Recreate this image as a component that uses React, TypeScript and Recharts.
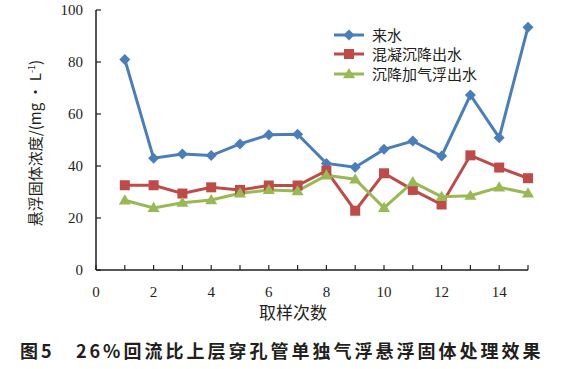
import React from "react";
import { LineChart, Line, XAxis, YAxis } from "recharts";

const samples = [1, 2, 3, 4, 5, 6, 7, 8, 9, 10, 11, 12, 13, 14, 15];
const influent = [81, 43, 44.6, 44, 48.5, 52, 52.2, 41, 39.5, 46.4, 49.6, 43.8, 67.3, 50.9, 93.4];
const coagEffluent = [32.6, 32.6, 29.4, 31.8, 30.8, 32.5, 32.5, 38.2, 22.8, 37.2, 30.8, 25.2, 44.1, 39.4, 35.3];
const flotationEffluent = [26.8, 23.9, 25.9, 26.9, 29.5, 30.8, 30.4, 36.4, 34.9, 23.9, 33.8, 28.2, 28.6, 31.8, 29.5];
const seriesNames = ["来水", "混凝沉降出水", "沉降加气浮出水"];
const xTicks = [0, 1, 2, 3, 4, 5, 6, 7, 8, 9, 10, 11, 12, 13, 14, 15];
const yTicks = [0, 20, 40, 60, 80, 100];

const COLORS = ["#4a7ebb", "#be4b48", "#98b954"];

const data = samples.map((s, i) => ({
  x: s,
  a: influent[i],
  b: coagEffluent[i],
  c: flotationEffluent[i],
}));

const PLOT_LEFT = 96;
const PLOT_BOTTOM = 270;
const AXIS = "#231f20";
const SERIF = "'Liberation Serif', 'Noto Sans CJK SC', serif";
const CJK = "'Noto Sans CJK SC', sans-serif";

function Marker({ kind, cx, cy, color }: { kind: number; cx: number; cy: number; color: string }) {
  if (cx == null || cy == null) return null;
  if (kind === 0) {
    const r = 5.5;
    return <polygon points={`${cx},${cy - r} ${cx + r},${cy} ${cx},${cy + r} ${cx - r},${cy}`} fill={color} />;
  }
  if (kind === 1) {
    return <rect x={cx - 5} y={cy - 5} width={10} height={10} fill={color} />;
  }
  const s = 6;
  return <polygon points={`${cx},${cy - s} ${cx + s},${cy + s * 0.7} ${cx - s},${cy + s * 0.7}`} fill={color} />;
}

const dot = (kind: number) => (props: any) => (
  <Marker key={`${kind}-${props.index}`} kind={kind} cx={props.cx} cy={props.cy} color={COLORS[kind]} />
);

function XTick(props: any) {
  const { x, payload } = props;
  const v = payload.value;
  return (
    <g>
      <line x1={x} x2={x} y1={PLOT_BOTTOM} y2={PLOT_BOTTOM - 5} stroke={AXIS} strokeWidth={1.2} />
      {v % 2 === 0 && (
        <text x={x} y={PLOT_BOTTOM + 27} textAnchor="middle" fontSize={15} fontFamily={SERIF} fill="#231f20">
          {v}
        </text>
      )}
    </g>
  );
}

function YTick(props: any) {
  const { y, payload } = props;
  return (
    <g>
      <line x1={PLOT_LEFT} x2={PLOT_LEFT + 5} y1={y} y2={y} stroke={AXIS} strokeWidth={1.2} />
      <text x={PLOT_LEFT - 13} y={y + 5} textAnchor="end" fontSize={15} fontFamily={SERIF} fill="#231f20">
        {payload.value}
      </text>
    </g>
  );
}

function LegendBox() {
  return (
    <div style={{ fontFamily: CJK, fontSize: 15, color: "#231f20" }}>
      {seriesNames.map((name, i) => (
        <div key={name} style={{ display: "flex", alignItems: "center", height: 19.5 }}>
          <svg width={36} height={14} style={{ marginRight: 3 }}>
            <line x1={1} x2={31} y1={7} y2={7} stroke={COLORS[i]} strokeWidth={3} />
            <Marker kind={i} cx={16} cy={7} color={COLORS[i]} />
          </svg>
          <span style={{ lineHeight: "18px" }}>{name}</span>
        </div>
      ))}
    </div>
  );
}

export default function App() {
  return (
    <div style={{ position: "absolute", left: 0, top: 0, width: 577, height: 369, background: "#fff" }}>
      <LineChart width={577} height={325} data={data} margin={{ top: 10, right: 49, bottom: 0, left: 0 }}>
        <XAxis
          type="number"
          dataKey="x"
          domain={[0, 15]}
          ticks={xTicks}
          interval={0}
          height={55}
          tickLine={false}
          axisLine={{ stroke: AXIS, strokeWidth: 1.5 }}
          tick={<XTick />}
          label={() => (
            <text x={PLOT_LEFT + 197} y={PLOT_BOTTOM + 49} textAnchor="middle" fontSize={17} fontFamily={CJK} fill="#231f20">
              取样次数
            </text>
          )}
        />
        <YAxis
          type="number"
          domain={[0, 100]}
          ticks={yTicks}
          interval={0}
          width={PLOT_LEFT}
          tickLine={false}
          axisLine={{ stroke: AXIS, strokeWidth: 1.5 }}
          tick={<YTick />}
          label={() => (
            <text
              x={41}
              y={143}
              transform="rotate(-90 41 143)"
              textAnchor="middle"
              fontSize={15}
              fontFamily={CJK}
              fill="#231f20"
            >
              悬浮固体浓度/(mg • L
              <tspan fontSize={9} dy={-6}>-1</tspan>
              <tspan dy={6}>)</tspan>
            </text>
          )}
        />
        <Line type="linear" dataKey="a" name={seriesNames[0]} stroke={COLORS[0]} strokeWidth={3} dot={dot(0)} isAnimationActive={false} />
        <Line type="linear" dataKey="b" name={seriesNames[1]} stroke={COLORS[1]} strokeWidth={3} dot={dot(1)} isAnimationActive={false} />
        <Line type="linear" dataKey="c" name={seriesNames[2]} stroke={COLORS[2]} strokeWidth={3} dot={dot(2)} isAnimationActive={false} />
      </LineChart>
      <div style={{ position: "absolute", left: 333, top: 25 }}>
        <LegendBox />
      </div>
      <div
        style={{
          position: "absolute",
          left: 20,
          top: 337,
          fontFamily: CJK,
          fontWeight: 700,
          fontSize: 18,
          letterSpacing: 3.0,
          color: "#231f20",
          whiteSpace: "nowrap",
        }}
      >
        图5&nbsp;&nbsp;&nbsp;26%回流比上层穿孔管单独气浮悬浮固体处理效果
      </div>
    </div>
  );
}
